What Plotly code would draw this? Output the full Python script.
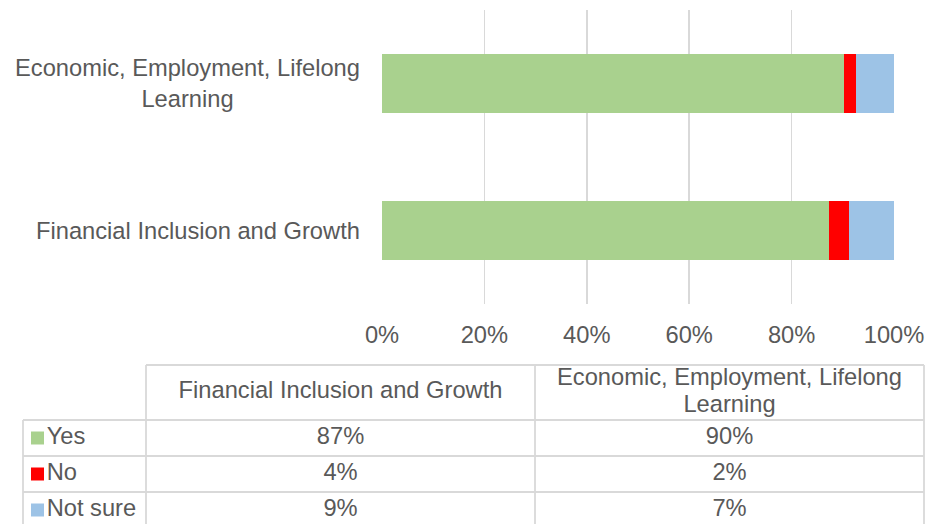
import numpy as np
import plotly.graph_objects as go

# ---------------- data ----------------
categories = ["Financial Inclusion and Growth", "Economic, Employment, Lifelong Learning"]
category_labels = ["Financial Inclusion and Growth", "Economic, Employment, Lifelong<br>Learning"]
series_names = ["Yes", "No", "Not sure"]
yes_vals = [87.4, 90.2]
no_vals = [3.8, 2.4]
notsure_vals = [8.8, 7.4]
x_ticks = [0, 20, 40, 60, 80, 100]
x_tick_labels = ["0%", "20%", "40%", "60%", "80%", "100%"]

# ---------------- styles ----------------
colors = ["#A9D18E", "#FF0000", "#9DC3E6"]
series_vals = [yes_vals, no_vals, notsure_vals]
FONT = "Liberation Sans, Arial, sans-serif"
FS = 23.7
TXT = "#595959"
GRID = "#D9D9D9"
W, H = 927, 524
col_widths = [123, 389, 389]
row_heights = [55, 36, 36, 36]
header_line_gap = 27

col_edges = np.cumsum([0] + col_widths)
row_edges = np.cumsum([0] + row_heights)
col_centers = (col_edges[:-1] + col_edges[1:]) / 2
row_centers = (row_edges[:-1] + row_edges[1:]) / 2

fig = go.Figure()

# ---------------- stacked bars ----------------
for name, vals, col in zip(series_names, series_vals, colors):
    fig.add_trace(go.Bar(
        y=categories, x=vals, name=name, orientation="h",
        marker=dict(color=col, line=dict(width=0)),
        xaxis="x", yaxis="y", showlegend=False, hoverinfo="skip",
    ))

for cat, lab in zip(categories, category_labels):
    fig.add_annotation(
        x=0, xref="x", y=cat, yref="y", text=lab, showarrow=False,
        xanchor="right", align="center", xshift=-20,
        font=dict(family=FONT, size=FS, color=TXT),
    )

# ---------------- data table (drawn on its own axes) ----------------
tw = col_edges[-1]
bx, by = [], []
bx += [col_edges[1], tw, None]; by += [0, 0, None]          # header top (not over empty corner)
for ry in row_edges[1:]:
    bx += [0, tw, None]; by += [ry, ry, None]
bx += [0, 0, None]; by += [row_edges[1], row_edges[-1], None]
for cx in col_edges[1:]:
    bx += [cx, cx, None]; by += [0, row_edges[-1], None]
fig.add_trace(go.Scatter(
    x=bx, y=by, mode="lines", line=dict(color=GRID, width=1.8),
    xaxis="x2", yaxis="y2", showlegend=False, hoverinfo="skip",
))

# header texts (multi-line labels split into lines)
hx, hy, ht = [], [], []
for j, lab in enumerate(category_labels):
    lines = lab.split("<br>")
    n = len(lines)
    for k, line in enumerate(lines):
        hx.append(col_centers[j + 1])
        hy.append(row_centers[0] + (k - (n - 1) / 2) * header_line_gap)
        ht.append(line)
fig.add_trace(go.Scatter(
    x=hx, y=hy, mode="text", text=ht, textposition="middle center",
    textfont=dict(family=FONT, size=FS, color=TXT),
    xaxis="x2", yaxis="y2", showlegend=False, hoverinfo="skip",
))

# value texts
vx, vy, vt = [], [], []
for i, vals in enumerate(series_vals):
    for j, v in enumerate(vals):
        vx.append(col_centers[j + 1]); vy.append(row_centers[i + 1]); vt.append(f"{v:.0f}%")
fig.add_trace(go.Scatter(
    x=vx, y=vy, mode="text", text=vt, textposition="middle center",
    textfont=dict(family=FONT, size=FS, color=TXT),
    xaxis="x2", yaxis="y2", showlegend=False, hoverinfo="skip",
))

# legend keys
fig.add_trace(go.Scatter(
    x=[14.5] * len(series_names), y=list(row_centers[1:]),
    mode="markers+text", text=series_names, textposition="middle right",
    marker=dict(symbol="square", size=13, color=colors, line=dict(width=0)),
    textfont=dict(family=FONT, size=FS, color=TXT),
    xaxis="x2", yaxis="y2", showlegend=False, hoverinfo="skip", cliponaxis=False,
))

fig.update_layout(
    width=W, height=H,
    margin=dict(l=0, r=0, t=0, b=0, autoexpand=False),
    paper_bgcolor="white", plot_bgcolor="rgba(0,0,0,0)",
    barmode="stack", bargap=0.6, hovermode=False,
    xaxis=dict(
        domain=[382 / W, 894 / W], range=[0, 100], anchor="y",
        tickvals=x_ticks, ticktext=x_tick_labels,
        showgrid=True, gridcolor=GRID, gridwidth=1.8,
        zeroline=False, showline=False, ticks="", ticklabelstandoff=14,
        tickfont=dict(family=FONT, size=FS, color=TXT),
        fixedrange=True, automargin=False,
    ),
    yaxis=dict(
        domain=[1 - 304 / H, 1 - 10 / H], anchor="x",
        categoryorder="array", categoryarray=categories,
        showticklabels=False, showgrid=False, zeroline=False, showline=False,
        range=[-0.5, 1.5], fixedrange=True, automargin=False,
    ),
    xaxis2=dict(
        domain=[22 / W, 925 / W], range=[-1, tw + 1], anchor="y2",
        visible=False, fixedrange=True, automargin=False,
    ),
    yaxis2=dict(
        domain=[0, 1 - 364 / H], range=[159, -1], anchor="x2",
        visible=False, fixedrange=True, automargin=False,
    ),
)

fig.write_html(
    "out.html",
    config={"displayModeBar": False, "staticPlot": True},
    post_script="document.body.style.margin='0px';document.body.style.overflow='hidden';",
)
